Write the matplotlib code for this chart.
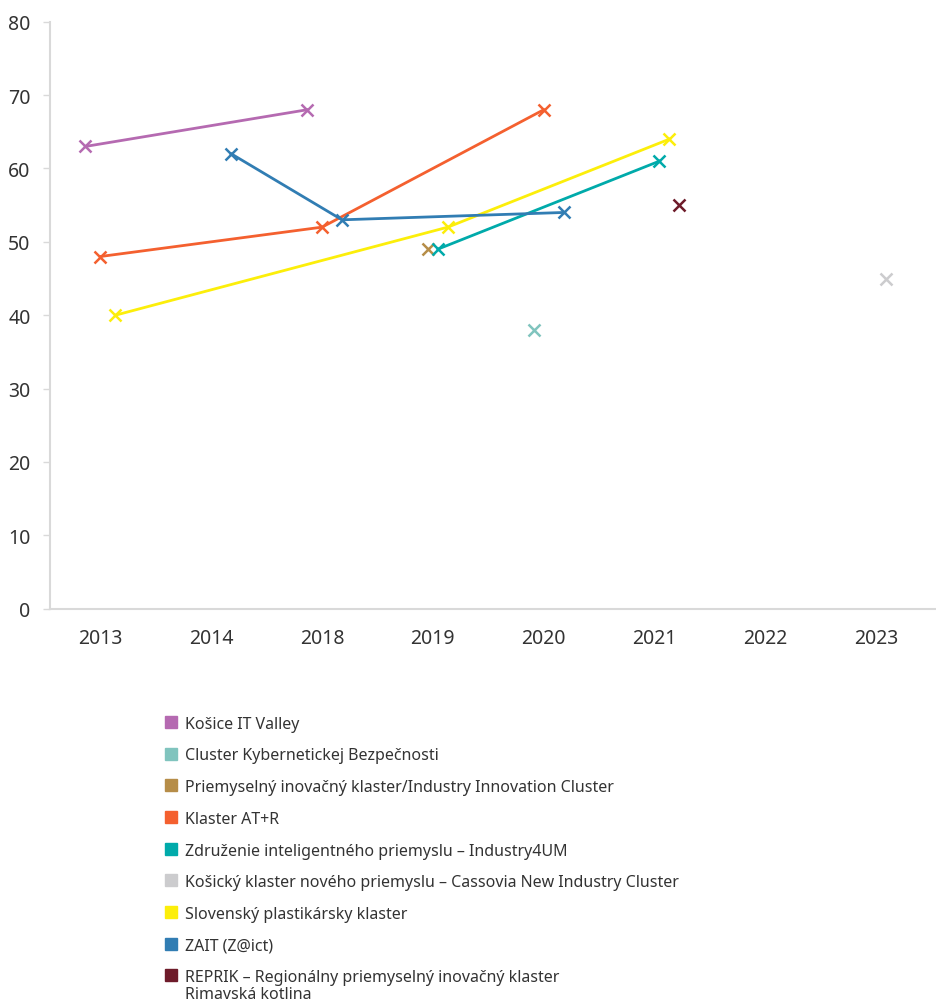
import numpy as np
import matplotlib.pyplot as plt
import matplotlib.transforms as mtransforms
from matplotlib.patches import Rectangle

plt.rcParams['font.family'] = ['Noto Sans', 'DejaVu Sans']

# categories on the x axis
years = ['2013', '2014', '2018', '2019', '2020', '2021', '2022', '2023']

# series values (None = no value for that year)
kosice_it_valley = [63, None, 68, None, None, None, None, None]
cluster_kyber = [None, None, None, None, 38, None, None, None]
priemyselny_ik = [None, None, None, 49, None, None, None, None]
klaster_atr = [48, None, 52, None, 68, None, None, None]
industry4um = [None, None, None, 49, None, 61, None, None]
cassovia = [None, None, None, None, None, None, None, 45]
plastikarsky = [40, None, None, 52, None, 64, None, None]
zait = [None, 62, 53, None, 54, None, None, None]
reprik = [None, None, None, None, None, 55, None, None]

names = ['Košice IT Valley',
         'Cluster Kybernetickej Bezpečnosti',
         'Priemyselný inovačný klaster/Industry Innovation Cluster',
         'Klaster AT+R',
         'Združenie inteligentného priemyslu – Industry4UM',
         'Košický klaster nového priemyslu – Cassovia New Industry Cluster',
         'Slovenský plastikársky klaster',
         'ZAIT (Z@ict)',
         'REPRIK – Regionálny priemyselný inovačný klaster\nRimavská kotlina']
series = [kosice_it_valley, cluster_kyber, priemyselny_ik, klaster_atr, industry4um,
          cassovia, plastikarsky, zait, reprik]
colors = ['#B56AB1', '#80C4BE', '#B68D48', '#F4602F', '#00AAAA',
          '#CCCCCE', '#FCEE0A', '#317DB3', '#6E1B2A']

fig = plt.figure(figsize=(9.37, 10.04), dpi=100)
ax = fig.add_axes([50 / 937, 1 - 609.7 / 1004, 886.5 / 937, 587 / 1004])

step = 0.045  # spread of the series inside one category
for i, (vals, col) in enumerate(zip(series, colors)):
    xs = [k + (i - 4) * step for k, v in enumerate(vals) if v is not None]
    ys = [v for v in vals if v is not None]
    ax.plot(xs, ys, color=col, linewidth=2, marker='x', markersize=8, markeredgewidth=1.8)

ax.set_xlim(-0.5, len(years) - 0.5)
ax.set_ylim(0, 80)
ax.set_yticks(np.arange(0, 81, 10))
ax.set_xticks(range(len(years)))
ax.set_xticklabels(years)
ax.tick_params(axis='x', length=0, pad=14, labelsize=14, labelcolor='#333333')
ax.tick_params(axis='y', length=5, width=1, color='#D9D9D9', pad=9, labelsize=14, labelcolor='#333333')
# year labels sit a little left of the category centres
shift = mtransforms.ScaledTranslation(-5 / 100, 0, fig.dpi_scale_trans)
for lab in ax.get_xticklabels():
    lab.set_transform(lab.get_transform() + shift)
for s in ['top', 'right']:
    ax.spines[s].set_visible(False)
for s in ['left', 'bottom']:
    ax.spines[s].set_color('#D9D9D9')
    ax.spines[s].set_linewidth(1.5)

# legend drawn by hand so the two-line entry keeps its square on the first line
for i, (name, col) in enumerate(zip(names, colors)):
    yc = 722.8 + i * 31.7
    fig.patches.append(Rectangle((165 / 937, 1 - (yc + 6) / 1004), 12 / 937, 12 / 1004,
                                 transform=fig.transFigure, color=col))
    fig.text(185 / 937, 1 - (yc - 6) / 1004, name, fontsize=11.5, color='#333333',
             va='top', ha='left', linespacing=1.05)

fig.savefig('out.png', dpi=100)
